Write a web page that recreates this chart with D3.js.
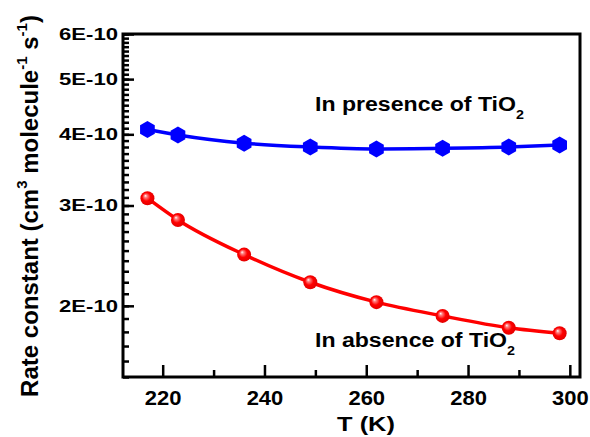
<!DOCTYPE html>
<html>
<head>
<meta charset="utf-8">
<script src="https://cdn.jsdelivr.net/npm/d3@7"></script>
<style>
  body { margin: 0; background: #fff; }
  text { font-family: "Liberation Sans", Arial, sans-serif; font-weight: bold; }
</style>
</head>
<body>
<svg id="chart" width="590" height="437"></svg>
<script>
// data
const temps = [217, 223, 236, 249, 262, 275, 288, 298];
const withTiO2 = [4.08e-10, 3.99e-10, 3.86e-10, 3.80e-10, 3.77e-10, 3.78e-10, 3.80e-10, 3.83e-10];
const withoutTiO2 = [3.09e-10, 2.83e-10, 2.46e-10, 2.20e-10, 2.03e-10, 1.92e-10, 1.83e-10, 1.79e-10];
const xTicks = [220, 240, 260, 280, 300];
const xMinor = [230, 250, 270, 290];
const yTicks = [2e-10, 3e-10, 4e-10, 5e-10, 6e-10];
const yTickLabels = ["2E-10", "3E-10", "4E-10", "5E-10", "6E-10"];
const yMinor = d3.range(15, 61).map(d => d * 1e-11);

const width = 590, height = 437;
const margin = { top: 34, right: 10, bottom: 60, left: 123 };

const svg = d3.select("#chart");

const x = d3.scaleLinear()
  .domain([212.2, 302])
  .range([margin.left, width - margin.right]);

const y = d3.scaleLog()
  .domain([1.5e-10, 6e-10])
  .range([height - margin.bottom, margin.top]);

const defs = svg.append("defs");
const grad = defs.append("radialGradient")
  .attr("id", "ball")
  .attr("cx", "50%").attr("cy", "50%")
  .attr("fx", "35%").attr("fy", "32%")
  .attr("r", "60%");
grad.append("stop").attr("offset", "0%").attr("stop-color", "#ffffff");
grad.append("stop").attr("offset", "18%").attr("stop-color", "#ff8080");
grad.append("stop").attr("offset", "50%").attr("stop-color", "#ff0000");
grad.append("stop").attr("offset", "100%").attr("stop-color", "#d80000");

// stretch axis labels sideways, the source font is wider than Arial
function stretch(g, sx) {
  g.selectAll("text").each(function () {
    const t = d3.select(this);
    const tx = +t.attr("x") || 0;
    t.attr("x", tx / sx).attr("transform", `scale(${sx},1)`);
  });
}

// minor ticks
svg.append("g")
  .attr("transform", `translate(${margin.left},0)`)
  .call(d3.axisLeft(y).tickValues(yMinor).tickSize(-6).tickSizeOuter(0).tickFormat(""))
  .call(g => g.select(".domain").remove())
  .call(g => g.selectAll("line").attr("stroke-width", 2.5));

svg.append("g")
  .attr("transform", `translate(0,${height - margin.bottom})`)
  .call(d3.axisBottom(x).tickValues(xMinor).tickSize(-7).tickSizeOuter(0).tickFormat(""))
  .call(g => g.select(".domain").remove())
  .call(g => g.selectAll("line").attr("stroke-width", 2.5));

// major ticks
const yAxis = d3.axisLeft(y)
  .tickValues(yTicks)
  .tickSize(-11)
  .tickSizeOuter(0)
  .tickPadding(5)
  .tickFormat((d, i) => yTickLabels[i]);
svg.append("g")
  .attr("transform", `translate(${margin.left},0)`)
  .call(yAxis)
  .call(g => g.select(".domain").remove())
  .call(g => g.selectAll("line").attr("stroke-width", 2.5))
  .call(g => g.selectAll("text")
    .attr("font-size", 17)
    .attr("fill", "#000")
    .style("font-family", "'Liberation Sans', Arial, sans-serif"))
  .call(g => stretch(g, 1.3));

const xAxis = d3.axisBottom(x)
  .tickValues(xTicks)
  .tickSize(-12)
  .tickSizeOuter(0)
  .tickPadding(14)
  .tickFormat(d3.format("d"));
svg.append("g")
  .attr("transform", `translate(0,${height - margin.bottom})`)
  .call(xAxis)
  .call(g => g.select(".domain").remove())
  .call(g => g.selectAll("line").attr("stroke-width", 2.5))
  .call(g => g.selectAll("text")
    .attr("font-size", 20)
    .attr("fill", "#000")
    .style("font-family", "'Liberation Sans', Arial, sans-serif"))
  .call(g => stretch(g, 1.1));

// frame
svg.append("rect")
  .attr("x", margin.left)
  .attr("y", margin.top)
  .attr("width", width - margin.left - margin.right)
  .attr("height", height - margin.top - margin.bottom)
  .attr("fill", "none")
  .attr("stroke", "#000")
  .attr("stroke-width", 3);

// series lines
const lineGen = vals => d3.line()
  .x((d, i) => x(temps[i]))
  .y(d => y(d))
  .curve(d3.curveMonotoneX)(vals);

svg.append("path")
  .attr("d", lineGen(withTiO2))
  .attr("fill", "none")
  .attr("stroke", "#0000ff")
  .attr("stroke-width", 3.5);

svg.append("path")
  .attr("d", lineGen(withoutTiO2))
  .attr("fill", "none")
  .attr("stroke", "#ff0000")
  .attr("stroke-width", 3.5);

// hexagon markers
const hexR = 8.5;
const hex = d3.range(6).map(k => {
  const a = Math.PI / 2 + k * Math.PI / 3;
  return [hexR * Math.cos(a), hexR * Math.sin(a)];
});
svg.append("g").selectAll("polygon")
  .data(withTiO2)
  .join("polygon")
  .attr("points", (d, i) => hex.map(p => [x(temps[i]) + p[0], y(d) + p[1]].join(",")).join(" "))
  .attr("fill", "#0000ff");

// sphere markers
svg.append("g").selectAll("circle")
  .data(withoutTiO2)
  .join("circle")
  .attr("cx", (d, i) => x(temps[i]))
  .attr("cy", d => y(d))
  .attr("r", 7)
  .attr("fill", "url(#ball)");

// labels
function label(txt, lx, ly) {
  const sx = 1.1;
  const t = svg.append("text")
    .attr("transform", `translate(${lx},${ly}) scale(${sx},1)`)
    .attr("font-size", 21)
    .attr("fill", "#000");
  t.append("tspan").text(txt);
  t.append("tspan").attr("dy", 8).attr("font-size", 13).text("2");
}
label("In presence of TiO", 315, 111);
label("In absence of TiO", 315, 347);

// axis titles
svg.append("text")
  .attr("transform", "translate(366,431) scale(1.21,1)")
  .attr("text-anchor", "middle")
  .attr("font-size", 21)
  .attr("fill", "#000")
  .text("T (K)");

const yt = svg.append("text")
  .attr("transform", "translate(38,206) rotate(-90)")
  .attr("text-anchor", "middle")
  .attr("font-size", 24)
  .attr("fill", "#000");
yt.append("tspan").text("Rate constant (cm");
yt.append("tspan").attr("dy", -11).attr("font-size", 15).text("3");
yt.append("tspan").attr("dy", 11).text(" molecule");
yt.append("tspan").attr("dy", -11).attr("font-size", 15).text("-1");
yt.append("tspan").attr("dy", 11).text(" s");
yt.append("tspan").attr("dy", -11).attr("font-size", 15).text("-1");
yt.append("tspan").attr("dy", 11).text(")");
</script>
</body>
</html>
